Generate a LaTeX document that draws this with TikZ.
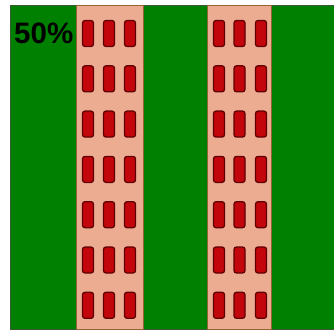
\documentclass[tikz,border=0pt]{standalone}
\usepackage{fontspec}
\setmainfont{Liberation Sans}
\definecolor{fieldgreen}{RGB}{0,128,0}
\definecolor{fieldedge}{RGB}{60,90,50}
\definecolor{stripfill}{RGB}{236,172,145}
\definecolor{stripedge}{RGB}{150,100,50}
\definecolor{winfill}{RGB}{195,5,12}
\definecolor{winedge}{RGB}{95,0,0}
\tikzset{
  field/.style={fill=fieldgreen, draw=fieldedge, line width=1pt},
  strip/.style={fill=stripfill, draw=stripedge, line width=0.9pt},
  window/.style={fill=winfill, draw=winedge, line width=1.3pt, rounded corners=2.5pt},
  label/.style={font=\bfseries\fontsize{29.5}{29.5}\selectfont, text=black, inner sep=0pt}
}
\begin{document}
\begin{tikzpicture}[x=1pt,y=-1pt]
\useasboundingbox (0,0) rectangle (334,331);
\fill[white] (0,0) rectangle (334,331);
\draw[field] (10.5,5.5) rectangle (336,329);
\draw[strip] (76,5.5) rectangle (143,329);
\draw[strip] (207,5.5) rectangle (271,329);
\foreach \i in {0,...,6}{
  \foreach \cx in {88,109,130,219,239.5,261}{
    \draw[window] ({\cx-5.5},{20.5+45.3*\i}) rectangle ({\cx+5.5},{46.5+45.3*\i});
  }
}
\node[label, anchor=west] (pct) at (14,33.5) {50\%};
\end{tikzpicture}
\end{document}
